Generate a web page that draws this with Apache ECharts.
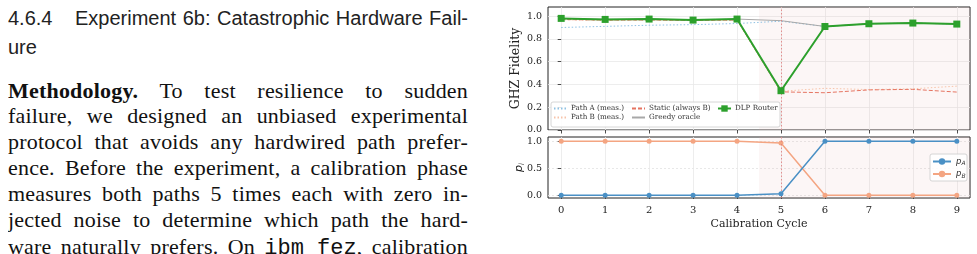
<!DOCTYPE html>
<html>
<head>
<meta charset="utf-8">
<script src="https://cdn.jsdelivr.net/npm/echarts@6/dist/echarts.min.js"></script>
<style>
  body { margin: 0; width: 977px; height: 254px; overflow: hidden; background: #fff; position: relative; }
  .ln { position: absolute; left: 8px; width: 460px; height: 26px; line-height: 26px; overflow: hidden;
        font-family: "Liberation Serif", serif; font-size: 22px; color: #111; letter-spacing: 0.2px;
        text-align: justify; text-align-last: justify; }
  .hd { position: absolute; height: 28px; line-height: 28px; font-family: "Liberation Sans", sans-serif;
        font-size: 20px; color: #222; overflow: hidden; }
  .tt { font-family: "Liberation Mono", monospace; letter-spacing: 0; }
  #chart { position: absolute; left: 490px; top: 0; width: 487px; height: 254px; }
</style>
</head>
<body>
<div class="hd" style="left:8px;top:4px;width:50px">4.6.4</div>
<div class="hd" style="left:75px;top:4px;width:393px;text-align:justify;text-align-last:justify">Experiment 6b: Catastrophic Hardware Fail-</div>
<div class="hd" style="left:8px;top:33px;width:100px">ure</div>

<div class="ln" style="top:78px"><b>Methodology.</b> To test resilience to sudden</div>
<div class="ln" style="top:103px">failure, we designed an unbiased experimental</div>
<div class="ln" style="top:129px">protocol that avoids any hardwired path prefer-</div>
<div class="ln" style="top:155px">ence. Before the experiment, a calibration phase</div>
<div class="ln" style="top:181px">measures both paths 5 times each with zero in-</div>
<div class="ln" style="top:207px">jected noise to determine which path the hard-</div>
<div class="ln" style="top:234px">ware naturally prefers. On <span class="tt">ibm_fez</span>, calibration</div>

<div id="chart"></div>
<script>
// calibration cycles
var cycles = [0, 1, 2, 3, 4, 5, 6, 7, 8, 9];
// GHZ fidelity per cycle
var pathA = [0.90, 0.91, 0.92, 0.925, 0.935, 0.955, 0.909, 0.933, 0.939, 0.93];
var pathB = [0.968, 0.962, 0.966, 0.96, 0.965, 0.34, 0.366, 0.355, 0.362, 0.385];
var staticB = [0.97, 0.965, 0.966, 0.962, 0.966, 0.335, 0.327, 0.352, 0.357, 0.333];
var greedy = [0.98, 0.971, 0.974, 0.965, 0.974, 0.96, 0.909, 0.933, 0.939, 0.93];
var dlp = [0.98, 0.971, 0.974, 0.965, 0.974, 0.345, 0.909, 0.933, 0.939, 0.93];
// path probabilities
var pA = [0, 0, 0, 0, 0, 0.03, 1, 1, 1, 1];
var pB = [1, 1, 1, 1, 1, 0.97, 0, 0, 0, 0];
// tick labels
var yTicksTop = [0, 0.2, 0.4, 0.6, 0.8, 1.0];
var yTicksBottom = [0, 0.5, 1.0];

var failAt = 5;
var shadeFrom = 4.5;

function pts(arr) {
  return cycles.map(function (c, i) { return [c, arr[i]]; });
}

var serif = 'DejaVu Serif';
var chart = echarts.init(document.getElementById('chart'), null, { renderer: 'canvas' });

var xAxisBase = function (grid, labels) {
  return {
    type: 'value', gridIndex: grid, min: -0.3, max: 9.3,
    axisLine: { show: false },
    axisTick: { show: true, customValues: cycles, length: 3.5, lineStyle: { color: '#222', width: 0.8 } },
    axisLabel: { show: labels, customValues: cycles, fontFamily: serif, fontSize: 10, color: '#222', margin: 7 },
    splitLine: { show: true, lineStyle: { color: '#e8e8e8', width: 0.8 } }
  };
};

var shade = {
  silent: true,
  itemStyle: { color: 'rgba(225,170,170,0.1)' },
  data: [[{ xAxis: shadeFrom }, { xAxis: 9.3 }]]
};
var failLine = {
  silent: true, symbol: 'none', label: { show: false },
  lineStyle: { color: '#e07a7a', type: [1.5, 2], width: 0.8 },
  data: [{ xAxis: failAt }]
};

// legend entries without a marker: hide the symbol, keep the line
var noMark = function (name) { return { name: name, itemStyle: { opacity: 0 } }; };
var legendText = { fontFamily: serif, fontSize: 7.2, color: '#333', padding: [0, 0, 0, -1] };

var option = {
  animation: false,
  grid: [
    { left: 58, top: 7, width: 422, height: 123, show: true, borderColor: '#222', borderWidth: 1, backgroundColor: 'transparent' },
    { left: 58, top: 137, width: 422, height: 61, show: true, borderColor: '#222', borderWidth: 1, backgroundColor: 'transparent' }
  ],
  xAxis: [
    xAxisBase(0, false),
    Object.assign(xAxisBase(1, true), {
      name: 'Calibration Cycle', nameLocation: 'middle', nameGap: 21,
      nameTextStyle: { fontFamily: serif, fontSize: 11, color: '#222' }
    })
  ],
  yAxis: [
    {
      type: 'value', gridIndex: 0, min: 0, max: 1.08,
      name: 'GHZ Fidelity', nameLocation: 'middle', nameGap: 26, nameMoveOverlap: false,
      nameTextStyle: { fontFamily: serif, fontSize: 12.5, color: '#222' },
      axisLine: { show: false },
      axisTick: { show: true, customValues: yTicksTop, length: 3.5, lineStyle: { color: '#222', width: 0.8 } },
      axisLabel: { customValues: yTicksTop, fontFamily: serif, fontSize: 9.5, color: '#222', margin: 6,
        formatter: function (v) { return v.toFixed(1); } },
      splitLine: { show: true, lineStyle: { color: '#e8e8e8', width: 0.8 } }
    },
    {
      type: 'value', gridIndex: 1, min: -0.05, max: 1.08,
      name: '{i|p}{s|i}', nameLocation: 'middle', nameGap: 22, nameMoveOverlap: false,
      nameTextStyle: { rich: {
        i: { fontFamily: 'DejaVu Sans', fontStyle: 'italic', fontSize: 11, color: '#222' },
        s: { fontFamily: 'DejaVu Sans', fontStyle: 'italic', fontSize: 7, color: '#222', verticalAlign: 'bottom', padding: [6, 0, 0, 0] }
      } },
      axisLine: { show: false },
      axisTick: { show: true, customValues: yTicksBottom, length: 3.5, lineStyle: { color: '#222', width: 0.8 } },
      axisLabel: { customValues: yTicksBottom, fontFamily: serif, fontSize: 9.5, color: '#222', margin: 6,
        formatter: function (v) { return v.toFixed(1); } },
      splitLine: { show: true, lineStyle: { color: '#e2e2e2', width: 0.8, type: [2, 2] } }
    }
  ],
  graphic: [
    { type: 'rect', z: 10, shape: { x: 61, y: 102, width: 229, height: 25, r: 2 },
      style: { fill: 'rgba(255,255,255,0.85)', stroke: '#cccccc', lineWidth: 0.8 } },
    { type: 'rect', z: 10, shape: { x: 440, y: 154, width: 37, height: 27, r: 2 },
      style: { fill: 'rgba(255,255,255,0.85)', stroke: '#cccccc', lineWidth: 0.8 } }
  ],
  legend: [
    { z: 11, orient: 'vertical', left: 63, top: 105, padding: 0, itemWidth: 13, itemHeight: 8, itemGap: 2,
      textStyle: legendText, data: [noMark('Path A (meas.)'), noMark('Path B (meas.)')] },
    { z: 11, orient: 'vertical', left: 141, top: 105, padding: 0, itemWidth: 13, itemHeight: 8, itemGap: 2,
      textStyle: legendText, data: [noMark('Static (always B)'), noMark('Greedy oracle')] },
    { z: 11, orient: 'vertical', left: 227, top: 105, padding: 0, itemWidth: 13, itemHeight: 8, itemGap: 2,
      textStyle: legendText, data: ['DLP Router'] },
    { z: 11, orient: 'vertical', left: 442, top: 157, padding: 0, itemWidth: 18, itemHeight: 8, itemGap: 3,
      formatter: function (n) { return n === 'pA' ? '{i|p}{s|A}' : '{i|p}{s|B}'; },
      textStyle: { rich: {
        i: { fontFamily: 'DejaVu Sans', fontStyle: 'italic', fontSize: 8.5, color: '#333' },
        s: { fontFamily: 'DejaVu Sans', fontStyle: 'italic', fontSize: 6, color: '#333', verticalAlign: 'bottom', padding: [4, 0, 0, 0] }
      } },
      data: ['pA', 'pB'] }
  ],
  series: [
    { name: 'shadeTop', type: 'line', xAxisIndex: 0, yAxisIndex: 0, data: [], z: 1, markArea: shade, markLine: failLine },
    { name: 'shadeBottom', type: 'line', xAxisIndex: 1, yAxisIndex: 1, data: [], z: 1, markArea: shade, markLine: failLine },
    { name: 'Path A (meas.)', type: 'line', xAxisIndex: 0, yAxisIndex: 0, symbol: 'none', z: 3,
      data: pts(pathA), itemStyle: { color: '#8ec1e3' }, lineStyle: { color: '#8ec1e3', width: 1, type: [1.5, 2] } },
    { name: 'Path B (meas.)', type: 'line', xAxisIndex: 0, yAxisIndex: 0, symbol: 'none', z: 3,
      data: pts(pathB), itemStyle: { color: '#f7c3a9' }, lineStyle: { color: '#f7c3a9', width: 1, type: [1.5, 2] } },
    { name: 'Greedy oracle', type: 'line', xAxisIndex: 0, yAxisIndex: 0, symbol: 'none', z: 4,
      data: pts(greedy), itemStyle: { color: '#a8a8a8' }, lineStyle: { color: '#a8a8a8', width: 1 } },
    { name: 'Static (always B)', type: 'line', xAxisIndex: 0, yAxisIndex: 0, symbol: 'none', z: 5,
      data: pts(staticB), itemStyle: { color: '#e57461' }, lineStyle: { color: '#e57461', width: 1, type: [4, 2] } },
    { name: 'DLP Router', type: 'line', xAxisIndex: 0, yAxisIndex: 0, symbol: 'rect', symbolSize: 7, z: 6,
      data: pts(dlp), itemStyle: { color: '#2ca02c' }, lineStyle: { color: '#2ca02c', width: 2 } },
    { name: 'pA', type: 'line', xAxisIndex: 1, yAxisIndex: 1, symbol: 'circle', symbolSize: 5, z: 5,
      data: pts(pA), itemStyle: { color: '#4a90c5' }, lineStyle: { color: '#4a90c5', width: 1.5 } },
    { name: 'pB', type: 'line', xAxisIndex: 1, yAxisIndex: 1, symbol: 'circle', symbolSize: 5, z: 4,
      data: pts(pB), itemStyle: { color: '#f4a582' }, lineStyle: { color: '#f4a582', width: 1.5 } }
  ]
};
chart.setOption(option);
</script>
</body>
</html>
